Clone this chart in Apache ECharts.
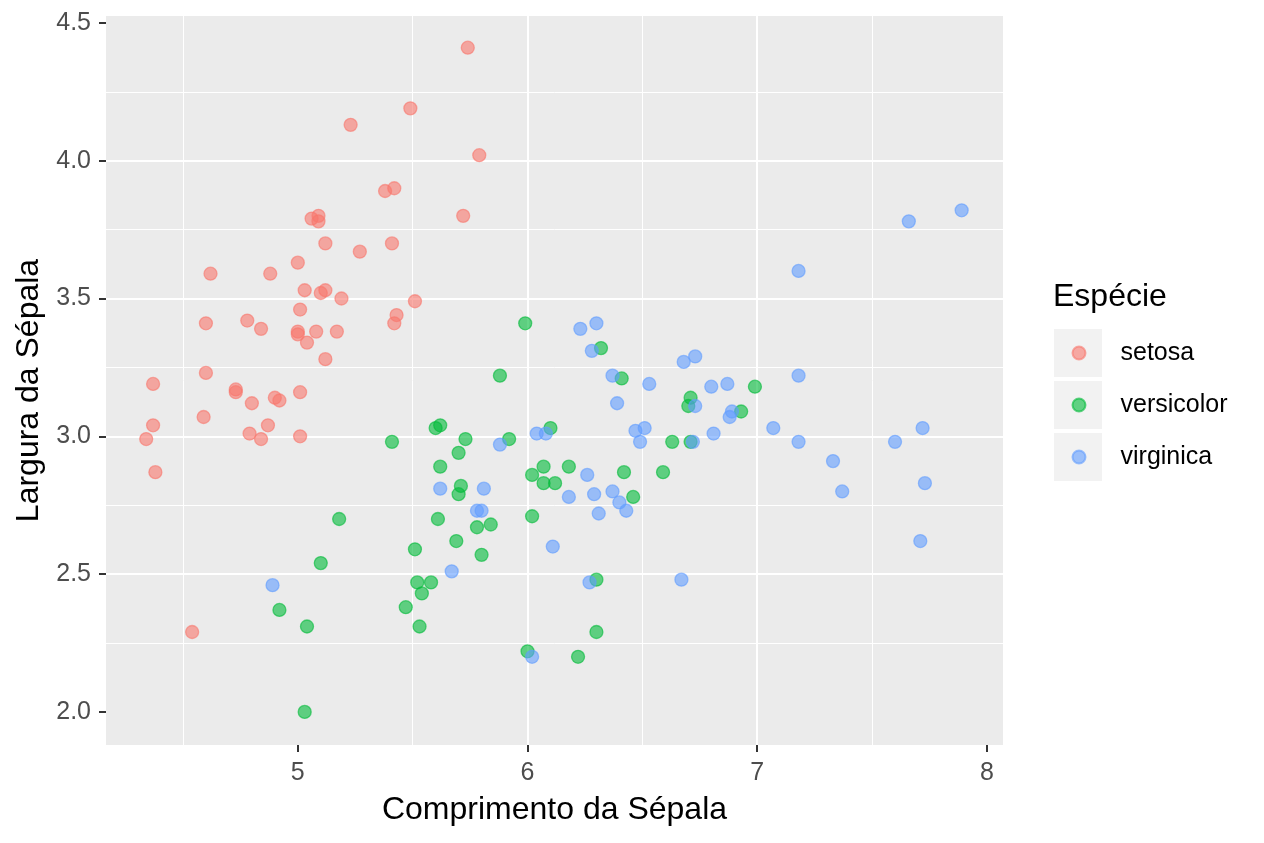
<!DOCTYPE html>
<html>
<head>
<meta charset="utf-8">
<title>Iris - Sépala</title>
<script src="https://cdn.jsdelivr.net/npm/echarts@6.0.0/dist/echarts.min.js"></script>
<style>
	html, body { margin: 0; padding: 0; background: #fff; }
	#iris-echarts { width: 1264px; height: 843px; }
</style>
</head>
<body>
<div id="iris-echarts"></div>
<script>
	// dados (com jitter)
	var especies = ['setosa', 'versicolor', 'virginica'];

	var setosaX = [5.74, 5.49, 5.23, 5.79, 5.72, 5.38, 5.42, 5.09, 5.06, 5.09, 5.12, 5.27, 5.41, 5.00, 4.88, 4.62, 5.03, 5.10, 5.12, 5.19, 5.51, 5.01, 5.43, 5.42, 4.60, 4.78, 4.84, 5.00, 5.00, 5.08, 5.17, 5.04, 5.12, 4.60, 4.37, 4.73, 4.73, 5.01, 4.80, 4.90, 4.92, 4.59, 4.37, 4.87, 4.79, 4.84, 5.01, 4.34, 4.38, 4.54];
	var setosaY = [4.41, 4.19, 4.13, 4.02, 3.80, 3.89, 3.90, 3.80, 3.79, 3.78, 3.70, 3.67, 3.70, 3.63, 3.59, 3.59, 3.53, 3.52, 3.53, 3.50, 3.49, 3.46, 3.44, 3.41, 3.41, 3.42, 3.39, 3.38, 3.37, 3.38, 3.38, 3.34, 3.28, 3.23, 3.19, 3.16, 3.17, 3.16, 3.12, 3.14, 3.13, 3.07, 3.04, 3.04, 3.01, 2.99, 3.00, 2.99, 2.87, 2.29];

	var versicolorX = [5.99, 6.32, 5.88, 6.41, 6.99, 6.71, 6.70, 6.93, 6.10, 5.62, 5.60, 5.73, 5.92, 5.41, 6.63, 6.71, 5.70, 6.07, 5.62, 6.18, 6.42, 6.59, 6.02, 6.07, 6.12, 5.71, 5.70, 6.46, 5.18, 5.61, 6.02, 5.84, 5.78, 5.69, 5.80, 5.10, 5.51, 5.52, 5.58, 6.30, 5.54, 5.47, 4.92, 5.53, 5.04, 6.30, 6.00, 6.22, 5.03];
	var versicolorY = [3.41, 3.32, 3.22, 3.21, 3.18, 3.14, 3.11, 3.09, 3.03, 3.04, 3.03, 2.99, 2.99, 2.98, 2.98, 2.98, 2.94, 2.89, 2.89, 2.89, 2.87, 2.87, 2.86, 2.83, 2.83, 2.82, 2.79, 2.78, 2.70, 2.70, 2.71, 2.68, 2.67, 2.62, 2.57, 2.54, 2.59, 2.47, 2.47, 2.48, 2.43, 2.38, 2.37, 2.31, 2.31, 2.29, 2.22, 2.20, 2.00];

	var virginicaX = [7.66, 7.89, 7.18, 6.30, 6.23, 6.28, 6.73, 6.68, 6.37, 6.53, 7.18, 6.80, 6.87, 6.39, 6.73, 6.89, 6.88, 7.07, 6.51, 6.47, 7.72, 6.81, 6.04, 6.08, 6.49, 5.88, 6.72, 7.18, 7.60, 7.33, 6.26, 5.62, 7.73, 5.81, 6.37, 7.37, 6.29, 6.18, 6.40, 6.43, 5.78, 5.80, 6.31, 6.11, 7.71, 5.67, 6.67, 6.27, 4.89, 6.02];
	var virginicaY = [3.78, 3.82, 3.60, 3.41, 3.39, 3.31, 3.29, 3.27, 3.22, 3.19, 3.22, 3.18, 3.19, 3.12, 3.11, 3.09, 3.07, 3.03, 3.03, 3.02, 3.03, 3.01, 3.01, 3.01, 2.98, 2.97, 2.98, 2.98, 2.98, 2.91, 2.86, 2.81, 2.83, 2.81, 2.80, 2.80, 2.79, 2.78, 2.76, 2.73, 2.73, 2.73, 2.72, 2.60, 2.62, 2.51, 2.48, 2.47, 2.46, 2.20];

	var xTicks = [5, 6, 7, 8];
	var yTicks = [2.0, 2.5, 3.0, 3.5, 4.0, 4.5];

	(function() {
		'use strict';

		var irisEcharts = echarts.init(document.getElementById('iris-echarts'));
		var fonte = '"Liberation Sans", Arial, Helvetica, sans-serif';
		var cores = ['#F8766D', '#00BA38', '#619CFF'];

		function pares(xs, ys) {
			var out = [];
			for (var i = 0; i < xs.length; i++) {
				out.push([xs[i], ys[i]]);
			}
			return out;
		}

		function serie(nome, xs, ys, cor) {
			return {
				name: nome,
				type: 'scatter',
				symbol: 'circle',
				symbolSize: 13,
				data: pares(xs, ys),
				itemStyle: {
					color: cor,
					borderColor: cor,
					borderWidth: 1.3,
					opacity: 0.6
				},
				emphasis: { disabled: true }
			};
		}

		//----------------------------caixas da legenda------------------------------------------
		var caixas = [];
		for (var k = 0; k < especies.length; k++) {
			caixas.push({
				type: 'rect',
				left: 1054,
				top: 329 + k * 52,
				z: 0,
				shape: { width: 48, height: 48 },
				style: { fill: '#F2F2F2' }
			});
		}

		var option = {
			animation: false,
			textStyle: { fontFamily: fonte },
			title: {
				text: 'Espécie',
				left: 1053,
				top: 281,
				padding: 0,
				textStyle: { fontSize: 32, fontWeight: 'normal', color: '#000', fontFamily: fonte }
			},
			legend: {
				data: especies,
				orient: 'vertical',
				left: 1071.5,
				top: 329,
				padding: 0,
				itemWidth: 13,
				itemHeight: 13,
				itemGap: 4,
				icon: 'circle',
				selectedMode: false,
				textStyle: { fontSize: 25, color: '#000', lineHeight: 48, padding: [0, 0, 0, 30], fontFamily: fonte }
			},
			graphic: caixas,
			grid: {
				left: 106,
				right: 261,
				top: 16,
				bottom: 98,
				show: true,
				backgroundColor: '#EBEBEB',
				borderWidth: 0,
				containLabel: false
			},
			xAxis: {
				type: 'value',
				min: 4.165,
				max: 8.07,
				splitNumber: 4,
				name: 'Comprimento da Sépala',
				nameLocation: 'middle',
				nameGap: 49,
				nameTextStyle: { fontSize: 32, color: '#000', fontFamily: fonte },
				axisLine: { show: false },
				axisTick: { show: true, length: 7, customValues: xTicks, lineStyle: { color: '#333', width: 2 } },
				axisLabel: { customValues: xTicks, fontSize: 25, color: '#4D4D4D', margin: 16, fontFamily: fonte },
				splitLine: { show: true, showMinLine: false, showMaxLine: false, lineStyle: { color: '#fff', width: 2 } },
				minorTick: { show: false, splitNumber: 2 },
				minorSplitLine: { show: true, lineStyle: { color: '#fff', width: 1 } }
			},
			yAxis: {
				type: 'value',
				min: 1.88,
				max: 4.525,
				splitNumber: 5,
				name: 'Largura da Sépala',
				nameLocation: 'middle',
				nameGap: 54,
				nameTextStyle: { fontSize: 32, color: '#000', fontFamily: fonte, padding: [0, 20, 0, 0] },
				axisLine: { show: false },
				axisTick: { show: true, length: 7, customValues: yTicks, lineStyle: { color: '#333', width: 2 } },
				axisLabel: {
					customValues: yTicks,
					fontSize: 25,
					color: '#4D4D4D',
					margin: 15,
					fontFamily: fonte,
					formatter: function(v) { return v.toFixed(1); }
				},
				splitLine: { show: true, showMinLine: false, showMaxLine: false, lineStyle: { color: '#fff', width: 2 } },
				minorTick: { show: false, splitNumber: 2 },
				minorSplitLine: { show: true, lineStyle: { color: '#fff', width: 1 } }
			},
			series: [
				serie(especies[0], setosaX, setosaY, cores[0]),
				serie(especies[1], versicolorX, versicolorY, cores[1]),
				serie(especies[2], virginicaX, virginicaY, cores[2])
			]
		};
		irisEcharts.setOption(option);
	})();
</script>
</body>
</html>
